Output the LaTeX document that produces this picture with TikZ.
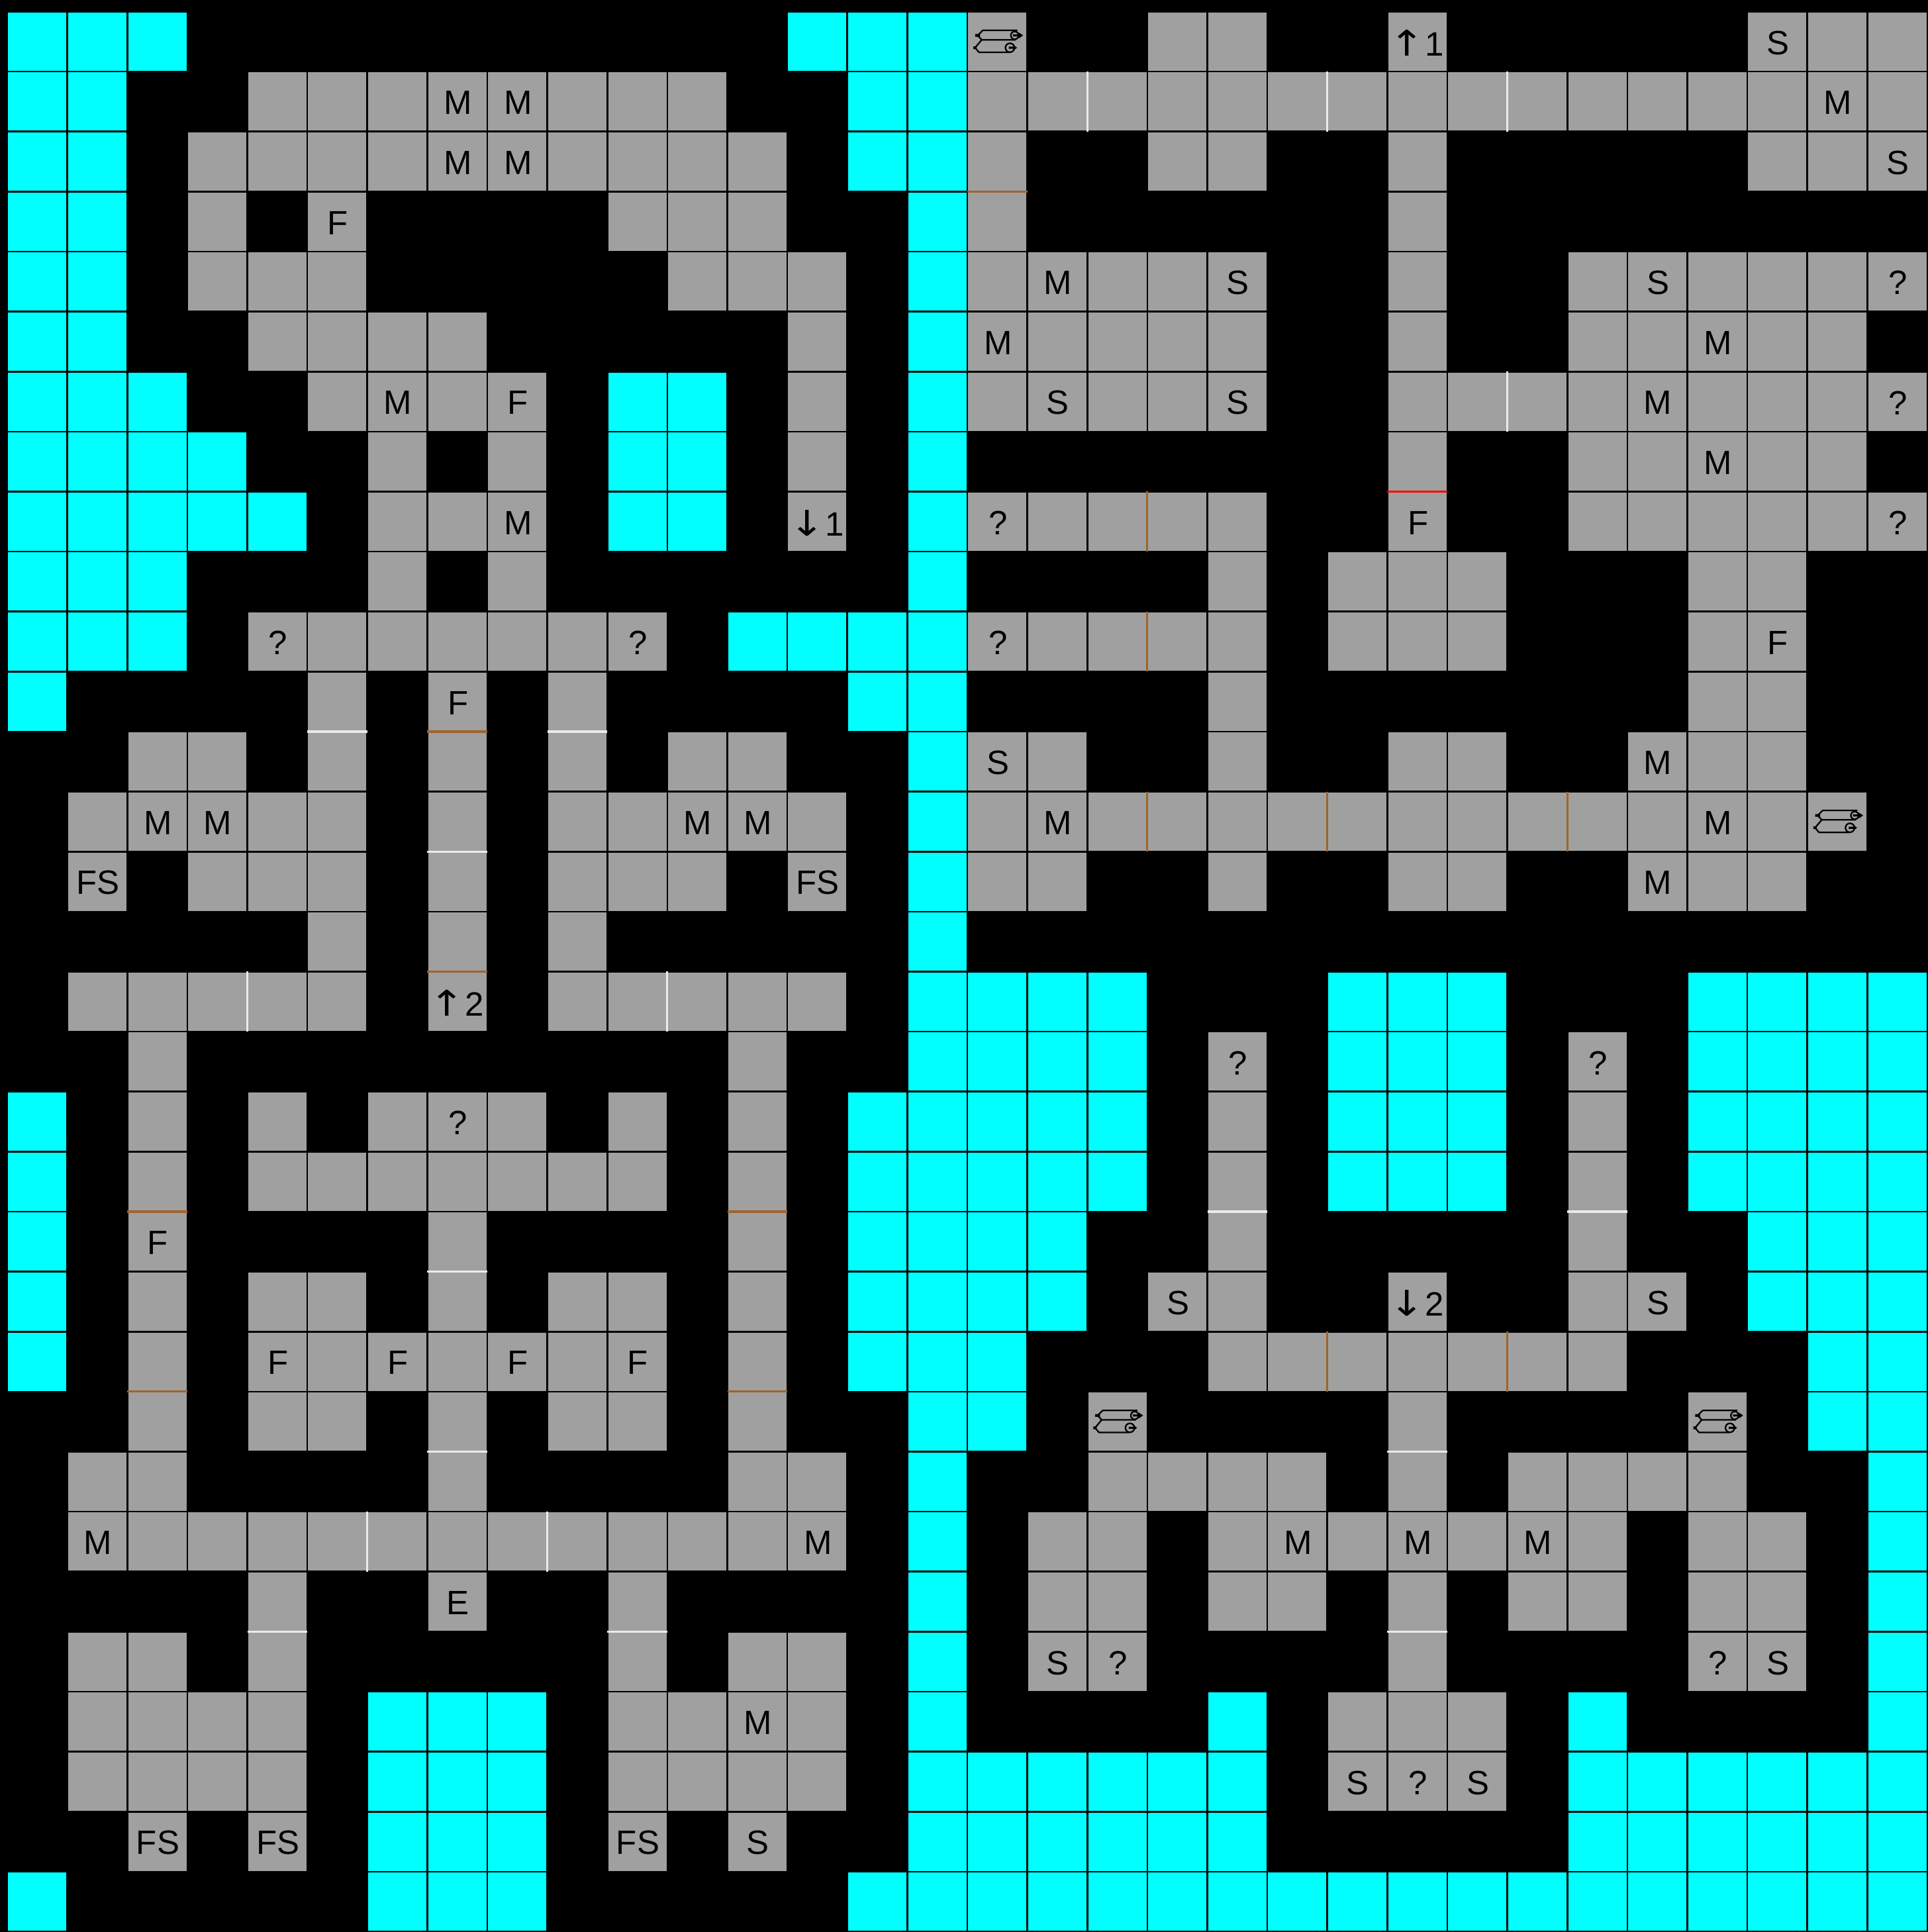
\documentclass[tikz,border=0pt]{standalone}
\usepackage{fontspec}
\setmainfont{Liberation Sans}
\newfontfamily\arrowfont{DejaVu Sans}
\usepackage{xcolor}
\definecolor{mapcyan}{HTML}{00FFFF}
\definecolor{mapgray}{HTML}{A0A0A0}
\definecolor{doorbrown}{HTML}{A0642A}

\begin{document}
\begin{tikzpicture}[
  x=0.5cm, y=-0.5cm,
  cyancell/.style={draw=black, line width=0.42pt, fill=mapcyan},
  graycell/.style={draw=black, line width=0.42pt, fill=mapgray},
  tag/.style={inner sep=0pt, text=black, font=\fontsize{8}{8}\selectfont},
  whitedoor/.style={draw=white!92!black, line width=0.5pt},
  browndoor/.style={draw=doorbrown, line width=0.5pt},
  reddoor/.style={draw=red, line width=0.5pt},
  scrollicon/.pic={
    \draw[black, line width=0.36pt, line join=round]
      (0.173,0.397) -- (0.257,0.313) -- (0.835,0.313)
      (0.173,0.397) -- (0.239,0.471) -- (0.809,0.471)
      (0.239,0.471) -- (0.129,0.603) -- (0.195,0.68) -- (0.70,0.68);
    \draw[black, line width=0.36pt] (0.79,0.397) circle (0.065) (0.71,0.603) circle (0.075);
    \fill[black] (0.13,0.375) rectangle (0.21,0.42) (0.10,0.58) rectangle (0.155,0.625);
    \fill[black] (0.76,0.38) -- (0.86,0.38) -- (0.86,0.35) -- (0.93,0.397) -- (0.86,0.445) -- (0.86,0.415) -- (0.76,0.415) -- cycle;
    \fill[black] (0.69,0.585) -- (0.77,0.585) -- (0.77,0.56) -- (0.83,0.603) -- (0.77,0.645) -- (0.77,0.62) -- (0.69,0.62) -- cycle;
  }
]
  \fill[black] (-0.1214,-0.193) rectangle (32.011,32.006);
  \useasboundingbox (-0.1214,-0.193) rectangle (32.011,32.006);

  % water
  \foreach \r/\a/\b in {
    0/0/2, 0/13/15, 1/0/1, 1/14/15, 2/0/1, 2/14/15, 3/0/1, 3/15/15, 4/0/1, 4/15/15, 5/0/1, 5/15/15,
    6/0/2, 6/10/11, 6/15/15, 7/0/3, 7/10/11, 7/15/15, 8/0/4, 8/10/11, 8/15/15, 9/0/2, 9/15/15,
    10/0/2, 10/12/15, 11/0/0, 11/14/15, 12/15/15, 13/15/15, 14/15/15, 15/15/15,
    16/15/18, 16/22/24, 16/28/31, 17/15/18, 17/22/24, 17/28/31,
    18/0/0, 18/14/18, 18/22/24, 18/28/31, 19/0/0, 19/14/18, 19/22/24, 19/28/31,
    20/0/0, 20/14/17, 20/29/31, 21/0/0, 21/14/17, 21/29/31, 22/0/0, 22/14/16, 22/30/31,
    23/15/16, 23/30/31, 24/15/15, 24/31/31, 25/15/15, 25/31/31, 26/15/15, 26/31/31, 27/15/15, 27/31/31,
    28/6/8, 28/15/15, 28/20/20, 28/26/26, 28/31/31, 29/6/8, 29/15/20, 29/26/31,
    30/6/8, 30/15/20, 30/26/31, 31/0/0, 31/6/8, 31/14/31}
    \foreach \c in {\a,...,\b}
      \draw[cyancell] (\c,\r) rectangle +(1,1);

  % rooms and corridors
  \foreach \r/\a/\b in {
    0/16/16, 0/19/20, 0/23/23, 0/29/31, 1/4/11, 1/16/31, 2/3/12, 2/16/16, 2/19/20, 2/23/23, 2/29/31,
    3/3/3, 3/5/5, 3/10/12, 3/16/16, 3/23/23, 4/3/5, 4/11/13, 4/16/20, 4/23/23, 4/26/31,
    5/4/7, 5/13/13, 5/16/20, 5/23/23, 5/26/30, 6/5/8, 6/13/13, 6/16/20, 6/23/31,
    7/6/6, 7/8/8, 7/13/13, 7/23/23, 7/26/30, 8/6/8, 8/13/13, 8/16/20, 8/23/23, 8/26/31,
    9/6/6, 9/8/8, 9/20/20, 9/22/24, 9/28/29, 10/4/10, 10/16/20, 10/22/24, 10/28/29,
    11/5/5, 11/7/7, 11/9/9, 11/20/20, 11/28/29,
    12/2/3, 12/5/5, 12/7/7, 12/9/9, 12/11/12, 12/16/17, 12/20/20, 12/23/24, 12/27/29,
    13/1/5, 13/7/7, 13/9/13, 13/16/30,
    14/1/1, 14/3/5, 14/7/7, 14/9/11, 14/13/13, 14/16/17, 14/20/20, 14/23/24, 14/27/29,
    15/5/5, 15/7/7, 15/9/9, 16/1/5, 16/7/7, 16/9/13,
    17/2/2, 17/12/12, 17/20/20, 17/26/26, 18/2/2, 18/4/4, 18/6/8, 18/10/10, 18/12/12, 18/20/20, 18/26/26,
    19/2/2, 19/4/10, 19/12/12, 19/20/20, 19/26/26, 20/2/2, 20/7/7, 20/12/12, 20/20/20, 20/26/26,
    21/2/2, 21/4/5, 21/7/7, 21/9/10, 21/12/12, 21/19/20, 21/23/23, 21/26/27,
    22/2/2, 22/4/10, 22/12/12, 22/20/26,
    23/2/2, 23/4/5, 23/7/7, 23/9/10, 23/12/12, 23/18/18, 23/23/23, 23/28/28,
    24/1/2, 24/7/7, 24/12/13, 24/18/21, 24/23/23, 24/25/28,
    25/1/13, 25/17/18, 25/20/26, 25/28/29,
    26/4/4, 26/7/7, 26/10/10, 26/17/18, 26/20/21, 26/23/23, 26/25/26, 26/28/29,
    27/1/2, 27/4/4, 27/10/10, 27/12/13, 27/17/18, 27/23/23, 27/28/29,
    28/1/4, 28/10/13, 28/22/24, 29/1/4, 29/10/13, 29/22/24,
    30/2/2, 30/4/4, 30/10/10, 30/12/12}
    \foreach \c in {\a,...,\b}
      \draw[graycell] (\c,\r) rectangle +(1,1);

  % doors
  \foreach \c/\r in {18/1, 22/1, 25/1, 25/6, 4/16, 11/16, 6/25, 9/25}
    \draw[whitedoor] (\c,\r) -- +(0,1);
  \foreach \c/\r in {19/8, 19/10, 19/13, 22/13, 26/13, 22/22, 25/22}
    \draw[browndoor] (\c,\r) -- +(0,1);
  \foreach \c/\r in {5/12, 9/12, 7/14, 20/20, 26/20, 7/21, 7/24, 23/24, 4/27, 10/27, 23/27}
    \draw[whitedoor] (\c,\r) -- +(1,0);
  \foreach \c/\r in {16/3, 7/12, 7/16, 2/20, 12/20, 2/23, 12/23}
    \draw[browndoor] (\c,\r) -- +(1,0);
  \draw[reddoor] (23,8) -- +(1,0);

  % marks
  \foreach \c/\r/\t in {
    7/1/M, 8/1/M, 30/1/M, 7/2/M, 8/2/M, 17/4/M, 16/5/M, 28/5/M, 6/6/M, 27/6/M, 28/7/M, 8/8/M, 27/12/M,
    2/13/M, 3/13/M, 11/13/M, 12/13/M, 17/13/M, 28/13/M, 27/14/M, 1/25/M, 13/25/M, 21/25/M, 23/25/M, 25/25/M, 12/28/M,
    29/0/S, 31/2/S, 20/4/S, 27/4/S, 17/6/S, 20/6/S, 16/12/S, 19/21/S, 27/21/S, 17/27/S, 29/27/S, 22/29/S, 24/29/S, 12/30/S,
    31/4/?, 31/6/?, 16/8/?, 31/8/?, 4/10/?, 10/10/?, 16/10/?, 20/17/?, 26/17/?, 7/18/?, 18/27/?, 28/27/?, 23/29/?,
    5/3/F, 8/6/F, 23/8/F, 29/10/F, 7/11/F, 2/20/F, 4/22/F, 6/22/F, 8/22/F, 10/22/F,
    1/14/FS, 13/14/FS, 2/30/FS, 4/30/FS, 10/30/FS, 7/26/E}
    \node[tag] (t\c-\r) at (\c+0.51,\r+0.52) {\t};
  \foreach \c/\r/\a/\n in {23/0/↑/1, 13/8/↓/1, 7/16/↑/2, 23/21/↓/2}
    \node[tag] (t\c-\r) at (\c+0.49,\r+0.52) {\scalebox{1.25}[1.05]{\arrowfont\a}\n};

  % scrolls
  \foreach \c/\r in {16/0, 30/13, 18/23, 28/23}
    \pic at (\c,\r) {scrollicon};
\end{tikzpicture}
\end{document}
